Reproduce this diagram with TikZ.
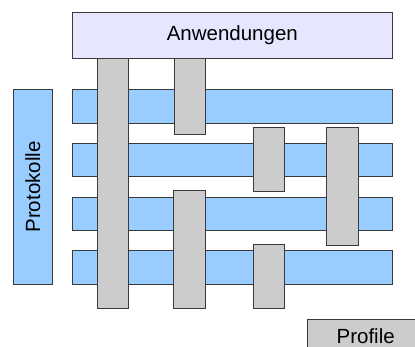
\documentclass[tikz,border=0pt]{standalone}
\usepackage{fontspec}
\setmainfont{Liberation Sans}
\definecolor{lav}{HTML}{E6E6FF}
\definecolor{proto}{HTML}{99CCFF}
\definecolor{prof}{HTML}{CCCCCC}
\definecolor{edge}{HTML}{3A3A3A}
\begin{document}
\begin{tikzpicture}[x=1pt,y=-1pt,
  box/.style={draw=edge,line width=0.8pt,inner sep=0pt,outer sep=0pt,font=\fontsize{20.5}{24}\selectfont},
  bar/.style={box,fill=proto},
  col/.style={box,fill=prof},
  app/.style={box,fill=lav}]
\useasboundingbox (0,0) rectangle (415,347);
\clip (0,0) rectangle (415,347);
% protocol bars
\node[bar,minimum width=319.3pt,minimum height=33.3pt] (b1) at (232.3,106.3) {};
\node[bar,minimum width=319.3pt,minimum height=33pt] (b2) at (232.3,159.8) {};
\node[bar,minimum width=319.3pt,minimum height=33pt] (b3) at (232.3,213.5) {};
\node[bar,minimum width=319.3pt,minimum height=33.7pt] (b4) at (232.3,267.2) {};
% profile columns
\node[col,minimum width=31.3pt,minimum height=249.7pt] (c1) at (112.7,183.2) {};
\node[col,minimum width=31.3pt,minimum height=76pt] (c2) at (189.7,96.3) {};
\node[col,minimum width=31pt,minimum height=64pt] (c3) at (268.8,159.7) {};
\node[col,minimum width=31.3pt,minimum height=117.3pt] (c4) at (342.3,186.3) {};
\node[col,minimum width=31.3pt,minimum height=117.3pt] (c5) at (189.3,249.3) {};
\node[col,minimum width=31pt,minimum height=63.3pt] (c6) at (268.8,276.3) {};
% applications
\node[app,minimum width=319.3pt,minimum height=46pt] (apps) at (232.3,35.3) {Anwendungen};
% protocols label
\node[bar,minimum width=39pt,minimum height=194.6pt] (protos) at (32.8,187) {\rotatebox{90}{Protokolle}};
% legend
\node[col,minimum width=117pt,minimum height=33pt] (legend) at (365.7,335.8) {Profile};
\end{tikzpicture}
\end{document}
